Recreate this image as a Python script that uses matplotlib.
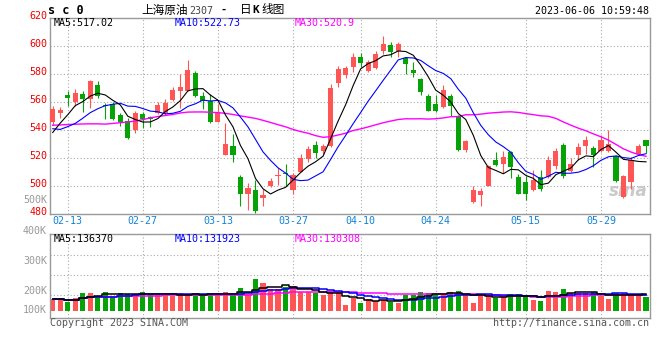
import matplotlib
matplotlib.use('Agg')
import matplotlib.pyplot as plt
import numpy as np
import pandas as pd

# ---------------- data ----------------
opens = [546, 552.6, 565.2, 559.8, 566, 562.4, 572.4, 558, 558.5, 551,
         546.6, 539.8, 551.4, 549.3, 552, 552, 561.6, 568, 568, 581,
         564.5, 561, 546, 522.5, 528.8, 506.5, 494.3, 497.4, 491.4, 499.7,
         507.2, 509.5, 497, 510.4, 519.5, 529.5, 525, 529, 574, 579.5,
         585.4, 592, 582, 584.3, 596.7, 601, 596.7, 591.4, 583, 576.7,
         564.5, 558.8, 556.2, 564.5, 549.8, 526, 488.3, 493.8, 500.2, 518.8,
         516, 524, 506.2, 502.6, 497.4, 506.4, 506.2, 514, 529.5, 511,
         522.4, 528.3, 527.4, 525.2, 525.2, 521.2, 491.9, 503, 522.9, 532.6]
highs = [557.5, 556.7, 568, 569.5, 568, 576, 575, 559.7, 560, 552,
         548.5, 554, 553.3, 550.2, 560.4, 562, 570.7, 580, 590, 582,
         567, 566, 559, 545, 537.5, 508, 502, 504, 498, 505.7,
         513, 516, 509, 523, 528.5, 532, 530, 573, 586, 586,
         595, 595, 590, 596.7, 607.4, 603.3, 603.3, 592.6, 589, 577.6,
         565.7, 565, 572, 565.7, 551, 533, 500, 498.6, 515.2, 524,
         525.2, 525.2, 508.6, 507, 511.2, 511.7, 521.2, 527, 530.7, 520,
         530.7, 535.5, 528.3, 536.2, 539.8, 522, 507.6, 520.5, 530.2, 533.1]
lows = [544, 549, 557, 557.5, 553, 556, 563, 548, 547, 543,
        533.8, 538, 541.4, 542, 551.5, 551, 561, 555.5, 568, 564,
        555, 545, 546, 522, 517.5, 485.5, 483, 481, 485.5, 499,
        501, 500, 494.5, 510, 517.5, 520, 523, 528, 570.5, 577.5,
        581.5, 585.5, 581.5, 583.5, 594.3, 592, 592.6, 580, 578.3, 564.8,
        553.8, 553.3, 555.5, 549.8, 524.8, 524.3, 488, 485.5, 500, 514,
        509.3, 505.7, 494, 489.8, 496.5, 496.7, 505.5, 512.4, 506, 510,
        518.3, 523, 513.3, 524, 524, 503, 491.5, 498, 522, 523.6]
closes = [555, 554.3, 563.3, 566.9, 562.5, 574.8, 564.5, 557, 548, 546,
          534.3, 552.6, 548, 548.3, 558, 559.7, 568.8, 571, 583, 564.7,
          561, 545.7, 552.7, 530.2, 522.4, 494, 498.6, 482, 493.3, 503.8,
          507.8, 508.3, 508, 520.4, 526.5, 523.6, 528.3, 570, 584, 584.7,
          592, 588.3, 589, 594.5, 601.7, 596.2, 601.7, 587.1, 581.2, 567,
          554, 553.8, 568.8, 557, 526, 532.4, 497.4, 496.2, 514.5, 515.2,
          520.5, 513.3, 494.5, 494.5, 504.5, 498.1, 518.8, 524.8, 507, 516,
          527.6, 532.6, 521.9, 532.6, 530.2, 503.8, 506.9, 518.8, 528.3, 528.8]
# volume, thousands of lots
volumes = [93.5, 93.5, 72.1, 101.5, 144.2, 144.2, 120.2, 152.2, 114.8, 144.2,
           136.2, 136.2, 152.2, 128.2, 128.2, 136.2, 120.2, 144.2, 128.2, 136.2,
           120.2, 136.2, 144.2, 152.2, 128.2, 184.2, 136.2, 256.3, 224.3, 176.2,
           176.2, 192.2, 200.3, 152.2, 152.2, 141.5, 128.2, 160.2, 141.5, 48.1,
           101.5, 64.1, 93.5, 80.1, 88.1, 72.1, 64.1, 128.2, 128.2, 152.2,
           144.2, 128.2, 128.2, 152.2, 160.2, 128.2, 64.1, 136.2, 128.2, 104.1,
           114.8, 136.2, 136.2, 128.2, 88.1, 80.1, 160.2, 152.2, 176.2, 144.2,
           141.5, 141.5, 152.2, 120.2, 96.1, 144.2, 144.2, 136.2, 128.2, 112.1]
# moving-average values before the window has enough closes
ma5_head = [538.3, 545, 551, 557.5]
ma10_head = [541, 540.5, 542.5, 544.8, 548.5, 552.5, 555.3, 557.5, 558.5]
ma30_head = [543.5, 543.7, 544, 544.2, 544.4, 544.5, 544.5, 544.3, 544.8, 545.3,
             545.8, 546.5, 547.5, 548.8, 549.7, 550.5, 551.2, 552.3, 552.9, 553,
             553, 552.8, 552.5, 552, 551.2, 550.2, 549.3, 548.4, 547]
tick_idx = [2, 12, 22, 32, 41, 51, 63, 73]
tick_labels = ['02-13', '02-27', '03-13', '03-27', '04-10', '04-24', '05-15', '05-29']
price_ticks = [620, 600, 580, 560, 540, 520, 500, 480]
vol_tick_labels = ['400K', '300K', '200K', '100K']
ma_price_labels = ['MA5:517.02', 'MA10:522.73', 'MA30:520.9']
ma_vol_labels = ['MA5:136370', 'MA10:131923', 'MA30:130308']

# ---------------- styles ----------------
RED = '#ff5555'
GREEN = '#05a305'
MONO = 'DejaVu Sans Mono'
CJK = ['Noto Sans CJK SC', 'DejaVu Sans']
GRID = dict(color='#aaaaaa', lw=0.8, ls=(0, (1, 2)))
FRAME = '#999999'

W, H = 660, 360
fig = plt.figure(figsize=(W / 100, H / 100), dpi=100)
fig.patch.set_facecolor('white')


def rect(l, t, r, b):
    return [l / W, 1 - b / H, (r - l) / W, (b - t) / H]


def ftext(x, y, s, **kw):
    kw.setdefault('va', 'center')
    fig.text(x / W, 1 - y / H, s, **kw)


n = len(closes)
x = np.arange(n)
o = np.array(opens); c = np.array(closes)
hi = np.array(highs); lo = np.array(lows)
up = c >= o
cols = [RED if u else GREEN for u in up]

# ---------------- main price axes ----------------
ax = fig.add_axes(rect(50, 18.3, 650, 214))
ax.set_xlim(-0.36, 79.53)
ax.set_ylim(480, 620)
ax.set_xticks([]); ax.set_yticks([])
for s in ax.spines.values():
    s.set_color(FRAME); s.set_linewidth(1)
for p in price_ticks[1:-1]:
    ax.axhline(p, zorder=0, **GRID)
for t in tick_idx:
    ax.axvline(t, zorder=0, **GRID)

ax.vlines(x, lo, hi, colors=cols, lw=0.8, zorder=2)
body = np.maximum(np.abs(c - o), 0.7)
ax.bar(x, body, bottom=np.minimum(o, c), width=0.68, color=cols, lw=0, zorder=3)

cs = pd.Series(closes)
ma5 = cs.rolling(5).mean().to_numpy(); ma5[:len(ma5_head)] = ma5_head
ma10 = cs.rolling(10).mean().to_numpy(); ma10[:len(ma10_head)] = ma10_head
ma30 = cs.rolling(30).mean().to_numpy(); ma30[:len(ma30_head)] = ma30_head
ax.plot(x, ma30, color='#ff00ff', lw=1.0, zorder=4)
ax.plot(x, ma10, color='#0000ff', lw=0.8, zorder=5)
ax.plot(x, ma5, color='black', lw=0.8, zorder=6)

# sina watermark
ax.text(0.963, 0.12, 'sina', transform=ax.transAxes, ha='center', va='center',
        fontsize=12, fontstyle='italic', fontweight='bold', color='#c4c4c4',
        alpha=0.9, zorder=1)

# ---------------- volume axes ----------------
axv = fig.add_axes(rect(50, 234.3, 650, 317.7))
axv.set_xlim(-0.36, 79.53)
axv.set_ylim(-53.7, 614.4)
axv.set_xticks([]); axv.set_yticks([])
for s in axv.spines.values():
    s.set_color(FRAME); s.set_linewidth(1)
for fr in [0.752, 0.512, 0.272]:
    axv.axhline(-53.7 + fr * (614.4 + 53.7), zorder=0, **GRID)
for t in tick_idx:
    axv.axvline(t, zorder=0, **GRID)
axv.bar(x, volumes, width=0.68, color=cols, lw=0, zorder=2)
vs = pd.Series(volumes)
axv.plot(x, vs.rolling(30, min_periods=1).mean(), color='#ff00ff', lw=1.1,
         drawstyle='steps-mid', zorder=3)
axv.plot(x, vs.rolling(10, min_periods=1).mean(), color='#0000ff', lw=1.1,
         drawstyle='steps-mid', zorder=4)
axv.plot(x, vs.rolling(5, min_periods=1).mean(), color='black', lw=1.1,
         drawstyle='steps-mid', zorder=5)

# ---------------- texts ----------------
fs = 7.2
for p in price_ticks:
    ypix = 18.3 + (620 - p) * 1.398 - 2
    ftext(47.5, ypix, str(p), ha='right', family=MONO, fontsize=fs, color='#ee0000')
ftext(47.5, 200, '500K', ha='right', family=MONO, fontsize=fs, color='#999999')

for t, lab in zip(tick_idx, tick_labels):
    xpix = 52.7 + 7.51 * t
    ftext(xpix, 221, lab, ha='center', family=MONO, fontsize=fs, color='#1482d2')

for yp, lab in zip([231, 261, 290.5, 310], vol_tick_labels):
    ftext(47, yp, lab, ha='right', family=MONO, fontsize=fs, color='#999999')

for xp, lab, col in zip([54, 175, 295], ma_price_labels, ['black', '#0000ff', '#ff00ff']):
    ftext(xp, 23.5, lab, ha='left', family=MONO, fontsize=fs, color=col)
for xp, lab, col in zip([54, 175, 295], ma_vol_labels, ['black', '#0000ff', '#ff00ff']):
    ftext(xp, 238.5, lab, ha='left', family=MONO, fontsize=fs, color=col)

# title
ftext(48, 10, 's c 0', ha='left', family=MONO, fontsize=8.5, fontweight='bold', color='black')
ftext(141, 10, '上海原油', ha='left', family=CJK, fontsize=8.4, color='black')
ftext(189, 10.5, '2307', ha='left', family=MONO, fontsize=fs, color='#444444')
ftext(224, 10, '-', ha='center', family=MONO, fontsize=fs, fontweight='bold', color='black')
ftext(240, 10, '日', ha='left', family=CJK, fontsize=8.4, color='black')
ftext(252.5, 10, 'K', ha='left', family=MONO, fontsize=8, fontweight='bold', color='black')
ftext(261, 10, '线图', ha='left', family=CJK, fontsize=8.4, color='black')
ftext(649, 11, '2023-06-06 10:59:48', ha='right', family=MONO, fontsize=fs, color='black')

# footer
ftext(50, 323, 'Copyright 2023 SINA.COM', ha='left', family=MONO, fontsize=fs, color='#555555')
ftext(649, 323, 'http://finance.sina.com.cn', ha='right', family=MONO, fontsize=fs, color='#555555')

fig.savefig('out.png', dpi=100)
